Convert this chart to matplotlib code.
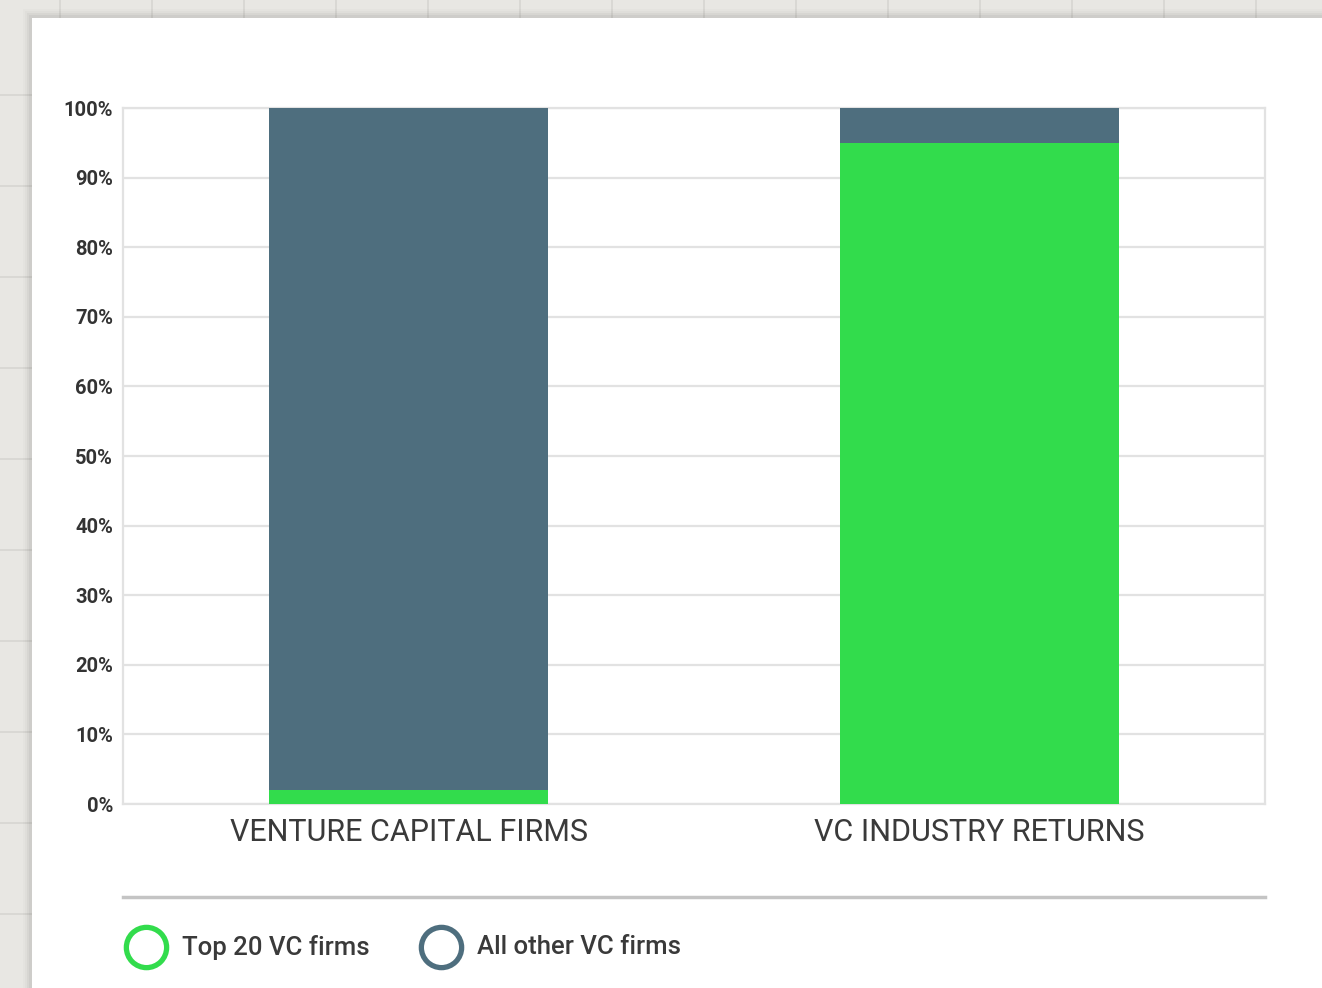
import numpy as np
import matplotlib.pyplot as plt
from matplotlib.patches import Rectangle
from matplotlib.lines import Line2D

# data
categories = ['VENTURE CAPITAL FIRMS', 'VC INDUSTRY RETURNS']
top20 = [2, 95]
others = [98, 5]
series_names = ['Top 20 VC firms', 'All other VC firms']
yticks = [0, 10, 20, 30, 40, 50, 60, 70, 80, 90, 100]

GREEN = '#32dc4c'
SLATE = '#4e6e7e'
W, H = 1322, 988

fig = plt.figure(figsize=(W / 100, H / 100), dpi=100)
fig.patch.set_facecolor('#e8e7e3')

# paper texture strips + white card
for x in range(60, W, 92):
    fig.add_artist(Line2D([x / W, x / W], [1 - 18 / H, 1], color='#d6d5d1', lw=1.2, zorder=0))
for y in range(95, H, 91):
    fig.add_artist(Line2D([0, 32 / W], [1 - y / H, 1 - y / H], color='#d6d5d1', lw=1.2, zorder=0))
for i, a in enumerate([0.04, 0.03, 0.02, 0.015]):
    fig.add_artist(Rectangle(((29 - 2 * i) / W, 0), 1, (H - 15 + 2 * i) / H,
                             transform=fig.transFigure, facecolor='black', alpha=a, lw=0, zorder=0))
fig.add_artist(Rectangle((32 / W, 0), 1, (H - 18) / H, transform=fig.transFigure,
                         facecolor='white', lw=0, zorder=0.5))

ax = fig.add_axes([123 / W, 1 - 804 / H, (1265 - 123) / W, (804 - 108) / H], zorder=2)
ax.set_facecolor('white')
x = np.arange(len(categories))
ax.bar(x, top20, width=0.49, color=GREEN, zorder=3)
ax.bar(x, others, width=0.49, bottom=top20, color=SLATE, zorder=3)

ax.set_xlim(-0.5, 1.5)
ax.set_ylim(0, 100)
ax.set_yticks(yticks)
ax.set_yticklabels([f'{v}%' for v in yticks], fontsize=14.5, fontweight='bold',
                   color='#333333', family='Roboto')
ax.set_xticks(x)
ax.set_xticklabels(categories, fontsize=22, color='#3a3a3a', family='Roboto')
ax.tick_params(axis='y', length=0, pad=7)
ax.tick_params(axis='x', length=0, pad=10)
ax.grid(axis='y', color='#e2e2e2', lw=1.6, zorder=0)
for s in ax.spines.values():
    s.set_color('#e2e2e2')
    s.set_linewidth(1.6)

# separator line
fig.add_artist(Line2D([123 / W, 1265 / W], [1 - 897 / H, 1 - 897 / H], color='#c4c4c4', lw=2.5, zorder=3))

# legend
leg_x = [146, 441]
for name, col, lx in zip(series_names, [GREEN, SLATE], leg_x):
    fig.add_artist(Line2D([lx / W], [1 - 947 / H], marker='o', ls='', ms=29,
                          mfc='white', mec=col, mew=3.8, zorder=3))
    fig.text((lx + 36) / W, 1 - 947 / H, name, fontsize=18.5, color='#3a3a3a',
             family='Roboto', fontweight='medium', va='center', ha='left', zorder=3)

fig.savefig('out.png', dpi=100, facecolor=fig.get_facecolor())
